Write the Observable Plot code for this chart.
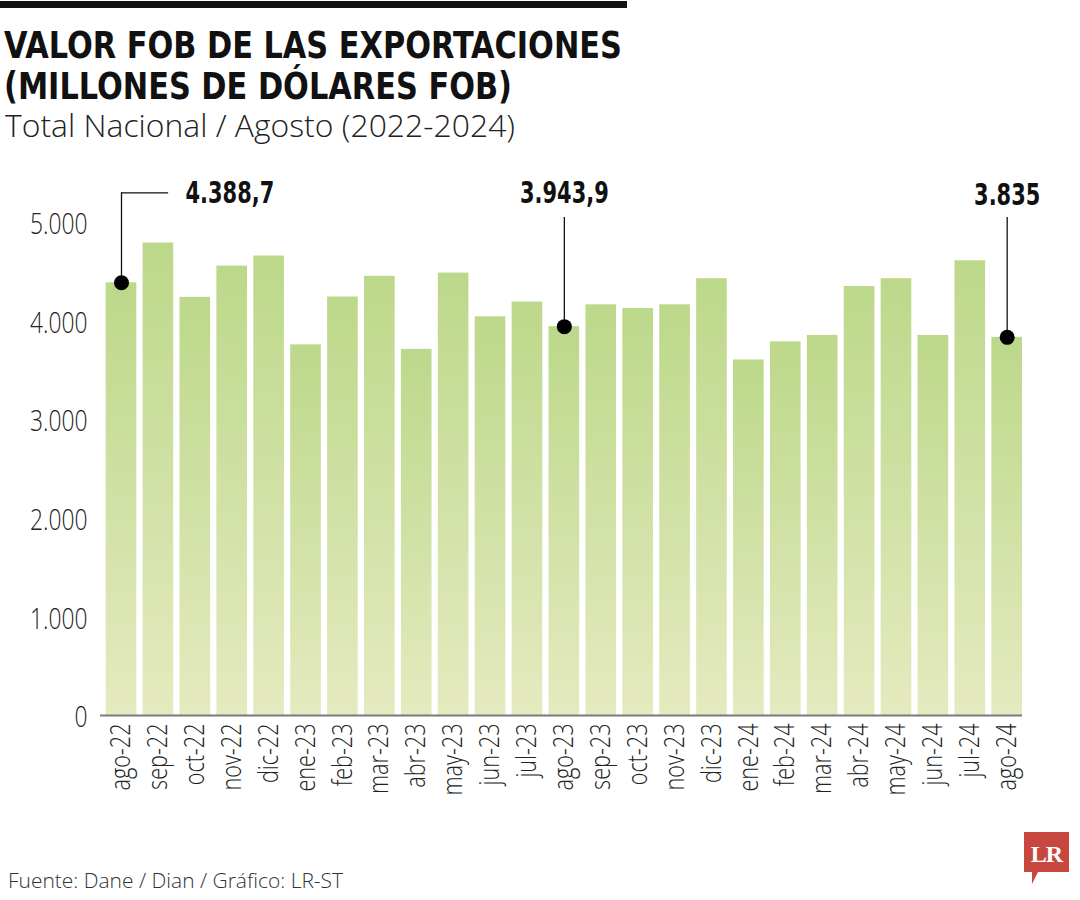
<!DOCTYPE html>
<html>
<head>
<meta charset="utf-8">
<script src="https://cdn.jsdelivr.net/npm/d3@7"></script>
<script src="https://cdn.jsdelivr.net/npm/@observablehq/plot@0.6"></script>
<style>
  html, body { margin: 0; padding: 0; background: #fff; }
  #wrap { position: relative; width: 1080px; height: 900px; overflow: hidden; background: #fff; }
  #topbar { position: absolute; left: 0; top: 1px; width: 627px; height: 7px; background: #111; }
  .fit { position: absolute; white-space: nowrap; transform-origin: 0 0; }
  #title { left: 4px; top: 25px; font-weight: 700; font-size: 37px; line-height: 41px; color: #111;
           font-family: "DejaVu Sans Condensed", "DejaVu Sans", sans-serif; }
  #subtitle { left: 5px; top: 107px; font-size: 31px; line-height: 36px; color: #222; font-weight: 300;
           font-family: "Open Sans", sans-serif; }
  #chart { position: absolute; left: 0; top: 150px; }
  #source { left: 8px; top: 867px; font-size: 21px; line-height: 26px; color: #333; font-weight: 300;
           font-family: "Open Sans", sans-serif; }
  #logo { position: absolute; left: 1024px; top: 832px; width: 45px; height: 55px; }
</style>
</head>
<body>
<div id="wrap">
  <div id="topbar"></div>
  <div id="title" class="fit" data-w="618">VALOR FOB DE LAS EXPORTACIONES<br>(MILLONES DE DÓLARES FOB)</div>
  <div id="subtitle" class="fit" data-w="510">Total Nacional / Agosto (2022-2024)</div>
  <div id="chart"></div>
  <div id="source" class="fit" data-w="335">Fuente: Dane / Dian / Gráfico: LR-ST</div>
  <svg id="logo" width="45" height="55" viewBox="0 0 45 55">
    <path d="M0,0 H45 V40 H14 L8,52 L8,40 H0 Z" fill="#c8473e"></path>
    <text x="22.5" y="30" text-anchor="middle" fill="#fff" font-family="Liberation Serif, DejaVu Serif, serif" font-weight="700" font-size="24" letter-spacing="-1">LR</text>
  </svg>
</div>
<script>
const months = ["ago-22","sep-22","oct-22","nov-22","dic-22","ene-23","feb-23","mar-23","abr-23","may-23","jun-23","jul-23","ago-23","sep-23","oct-23","nov-23","dic-23","ene-24","feb-24","mar-24","abr-24","may-24","jun-24","jul-24","ago-24"];
const values = [4388.7, 4792, 4241, 4558, 4660, 3759, 4244, 4454, 3713, 4487, 4044, 4193, 3943.9, 4165, 4127, 4165, 4430, 3606, 3789, 3855, 4351, 4430, 3855, 4612, 3835];
const yTicks = [0, 1000, 2000, 3000, 4000, 5000];
const annotMonths = ["ago-22", "ago-23", "ago-24"];
const annotValues = [4388.7, 3943.9, 3835];
const annotLabels = ["4.388,7", "3.943,9", "3.835"];

const data = months.map((m, i) => ({month: m, value: values[i]}));
const annots = annotMonths.map((m, i) => ({month: m, value: annotValues[i], label: annotLabels[i]}));
const fmt = d => d3.format(",")(d).replace(/,/g, ".");
const light = "Open Sans, sans-serif";
const bold = "DejaVu Sans Condensed, DejaVu Sans, sans-serif";

const chart = Plot.plot({
  width: 1080,
  height: 690,
  marginLeft: 100,
  marginRight: 58,
  marginTop: 72,
  marginBottom: 125,
  style: {fontFamily: light, color: "#222", background: "transparent", overflow: "visible"},
  x: {domain: months, paddingInner: 0.17, paddingOuter: 0.077, align: 1, round: false, label: null},
  y: {domain: [0, 5000], label: null},
  marks: [
    Plot.barY(data, {x: "month", y: "value", fill: "url(#barGrad)"}),
    Plot.ruleY([0], {stroke: "#7a7a7a", strokeWidth: 2}),
    Plot.axisY(yTicks, {tickSize: 0, tickPadding: 13, tickFormat: fmt, fontSize: 30, fontWeight: 300, fontFamily: light, fill: "#222", dy: 2}),
    Plot.axisX({tickSize: 0, tickPadding: 8, tickRotate: -90, fontSize: 27, fontWeight: 300, fontFamily: light, fill: "#222"}),
    // leader lines
    Plot.ruleX(annots.slice(0, 1), {x: "month", y1: "value", y2: 5300, stroke: "#111", strokeWidth: 1.3}),
    Plot.tickY(annots.slice(0, 1), {x: "month", y: () => 5300, stroke: "#111", strokeWidth: 1.3, insetLeft: 15.3, insetRight: -31.8}),
    Plot.ruleX(annots.slice(1), {x: "month", y1: "value", y2: 5050, stroke: "#111", strokeWidth: 1.3}),
    Plot.dot(annots, {x: "month", y: "value", r: 7.5, fill: "#000", stroke: null}),
    Plot.text(annots.slice(0, 1), {x: "month", y: () => 5300, text: "label", textAnchor: "start", dx: 64, fontSize: 31, fontWeight: "bold", fontFamily: bold, fill: "#111", lineAnchor: "middle"}),
    Plot.text(annots.slice(1, 2), {x: "month", y: () => 5300, text: "label", textAnchor: "middle", fontSize: 31, fontWeight: "bold", fontFamily: bold, fill: "#111", lineAnchor: "middle"}),
    Plot.text(annots.slice(2), {x: "month", y: () => 5275, text: "label", textAnchor: "middle", fontSize: 31, fontWeight: "bold", fontFamily: bold, fill: "#111", lineAnchor: "middle"})
  ]
});

const defs = d3.select(chart).insert("defs", ":first-child");
const grad = defs.append("linearGradient").attr("id", "barGrad").attr("x1", 0).attr("y1", 0).attr("x2", 0).attr("y2", 1);
grad.append("stop").attr("offset", "0%").attr("stop-color", "#bcd88a");
grad.append("stop").attr("offset", "100%").attr("stop-color", "#e5eabf");

document.getElementById("chart").appendChild(chart);

// narrow the glyphs (the original uses a condensed face)
function squeeze(selector, k) {
  chart.querySelectorAll(selector).forEach(t => {
    const w = t.getComputedTextLength();
    t.setAttribute("textLength", (w * k).toFixed(1));
    t.setAttribute("lengthAdjust", "spacingAndGlyphs");
  });
}
squeeze('g[aria-label="y-axis tick label"] text', 0.76);
squeeze('g[aria-label="x-axis tick label"] text', 0.8);
squeeze('g[aria-label="text"] text', 0.75);

document.querySelectorAll(".fit").forEach(el => {
  const w = el.getBoundingClientRect().width;
  el.style.transform = `scaleX(${(+el.dataset.w / w).toFixed(4)})`;
});
</script>
</body>
</html>
